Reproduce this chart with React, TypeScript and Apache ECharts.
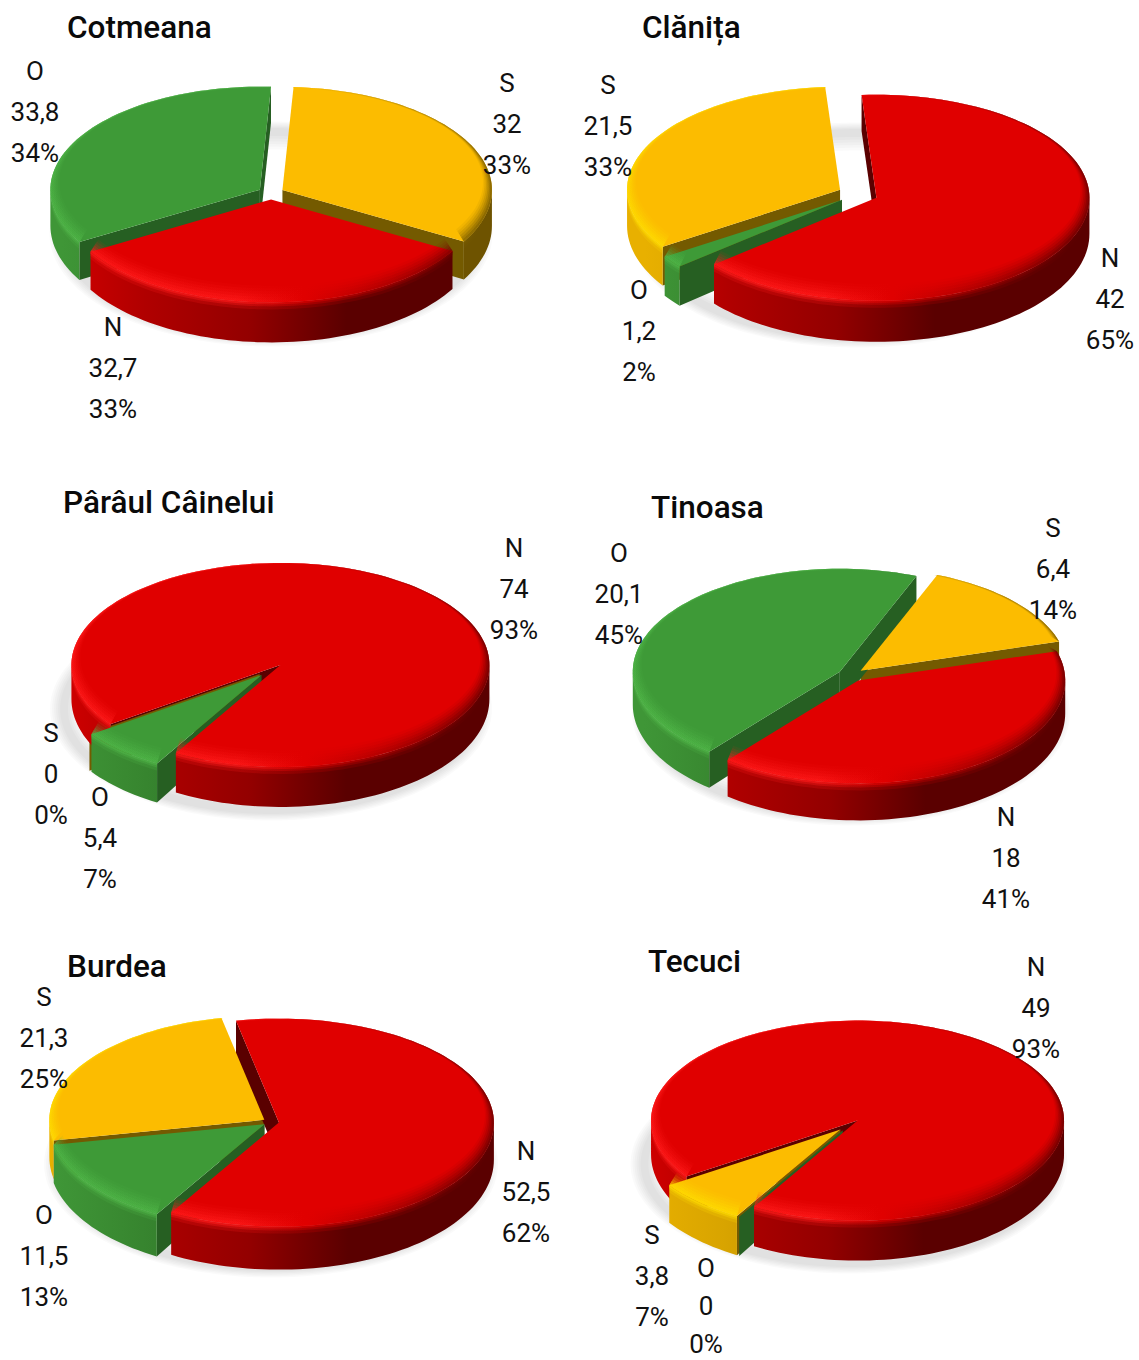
import React, { useEffect, useRef } from "react";
import * as echarts from "echarts";

// Slice order around each pie, clockwise from its first slice.
const sliceNames = ["N", "O", "S"];

const cotmeanaValues = [32.7, 33.8, 32];
const clanitaValues = [42, 1.2, 21.5];
const parauValues = [74, 5.4, 0];
const tinoasaValues = [18, 20.1, 6.4];
const burdeaValues = [52.5, 11.5, 21.3];
const tecuciValues = [49, 0, 3.8];

const cotmeanaPercents = ["33%", "34%", "33%"];
const clanitaPercents = ["65%", "2%", "33%"];
const parauPercents = ["93%", "7%", "0%"];
const tinoasaPercents = ["41%", "45%", "14%"];
const burdeaPercents = ["62%", "13%", "25%"];
const tecuciPercents = ["93%", "0%", "7%"];

const FONT = "Roboto, 'Noto Sans', sans-serif";
const RAD = Math.PI / 180;
const LINE_STEP = 41;

type Pie = {
  title: string;
  titleX: number;
  titleY: number;
  values: number[];
  percents: string[];
  cx: number;
  cy: number;
  rx: number;
  ry: number;
  depth: number;
  bulge: number;
  explode: number;
  start: number;
  labels: number[][];
};

// Geometry of each drum: centre, radii, wall height (taller towards the front by bulge),
// explosion and first-slice angle (degrees clockwise from 12 o'clock).
// Labels are [centre x, first line centre y, optional line step], in slice order.
const pies: Pie[] = [
  { title: "Cotmeana", titleX: 67, titleY: 27, values: cotmeanaValues, percents: cotmeanaPercents,
    cx: 271, cy: 193, rx: 209.5, ry: 103, depth: 36, bulge: 4, explode: 13, start: 120,
    labels: [[113, 327], [35, 71], [507, 83]] },
  { title: "Clănița", titleX: 642, titleY: 27, values: clanitaValues, percents: clanitaPercents,
    cx: 858, cy: 194, rx: 213, ry: 103, depth: 36, bulge: 5, explode: 20, start: 356,
    labels: [[1110, 258], [639, 290], [608, 85]] },
  { title: "Pârâul Câinelui", titleX: 63, titleY: 502, values: parauValues, percents: parauPercents,
    cx: 271, cy: 670, rx: 209, ry: 102, depth: 34, bulge: 6, explode: 14, start: 234.5,
    labels: [[514, 548], [100, 797], [51, 733]] },
  { title: "Tinoasa", titleX: 651, titleY: 507, values: tinoasaValues, percents: tinoasaPercents,
    cx: 851, cy: 675, rx: 207, ry: 103, depth: 33, bulge: 4, explode: 13, start: 73.5,
    labels: [[1006, 817], [619, 553], [1053, 528]] },
  { title: "Burdea", titleX: 67, titleY: 966, values: burdeaValues, percents: burdeaPercents,
    cx: 271, cy: 1122, rx: 215, ry: 104, depth: 37, bulge: 6, explode: 8, start: 348.5,
    labels: [[526, 1151], [44, 1215], [44, 997]] },
  { title: "Tecuci", titleX: 648, titleY: 961, values: tecuciValues, percents: tecuciPercents,
    cx: 849, cy: 1125, rx: 206.5, ry: 100, depth: 34, bulge: 6, explode: 12.5, start: 236,
    labels: [[1036, 967], [706, 1268, 38], [652, 1235]] },
];

// Shading per slice name: top colour, cut-face colour, wall and bevel ramps (left to right).
const shades: Record<string, { top: string; face: string; wall: [number, string][]; bevel: [number, string][] }> = {
  N: {
    top: "#e00000",
    face: "#5a0000",
    wall: [[0, "#d00000"], [0.2, "#b00000"], [0.45, "#930000"], [0.68, "#5a0000"], [1, "#5a0000"]],
    bevel: [[0, "#ff1a1a"], [0.42, "#ff1a1a"], [0.58, "#e00000"], [0.8, "#a00000"], [1, "#600000"]],
  },
  O: {
    top: "#3e9a37",
    face: "#265f22",
    wall: [[0, "#3f9637"], [0.2, "#37852f"], [0.45, "#2e7028"], [0.7, "#245a20"], [1, "#245a20"]],
    bevel: [[0, "#4fb547"], [0.42, "#4fb547"], [0.58, "#3e9a37"], [0.8, "#2e7028"], [1, "#245a20"]],
  },
  S: {
    top: "#fcbc00",
    face: "#745a00",
    wall: [[0, "#e8b000"], [0.2, "#d8a400"], [0.45, "#b88c00"], [0.7, "#6e5300"], [1, "#6e5300"]],
    bevel: [[0, "#ffdc00"], [0.42, "#ffdc00"], [0.58, "#fcbc00"], [0.8, "#a88000"], [1, "#6e5300"]],
  },
};

const ramp = (pie: Pie, stops: [number, string][]) =>
  new echarts.graphic.LinearGradient(
    pie.cx - pie.rx,
    0,
    pie.cx + pie.rx,
    0,
    stops.map(([offset, color]) => ({ offset, color })),
    true,
  );

const arcPoints = (cx: number, cy: number, rx: number, ry: number, from: number, to: number) => {
  const pts: number[][] = [];
  const steps = Math.max(1, Math.ceil(Math.abs(to - from) / 2));
  for (let i = 0; i <= steps; i++) {
    const t = (from + ((to - from) * i) / steps) * RAD;
    pts.push([cx + rx * Math.sin(t), cy - ry * Math.cos(t)]);
  }
  return pts;
};

// Parts of [from, to] that face the viewer (rim running along the front half).
const frontRanges = (from: number, to: number) => {
  const out: number[][] = [];
  for (let k = -1; k < 3; k++) {
    const lo = Math.max(from, 90 + 360 * k);
    const hi = Math.min(to, 270 + 360 * k);
    if (hi > lo) out.push([lo, hi]);
  }
  return out;
};

const poly = (points: number[][], style: object, z2: number) => ({
  type: "polygon",
  z2,
  silent: true,
  shape: { points },
  style,
});

const makeRenderItem = (pie: Pie) => (params: any, api: any) => {
  const index = params.dataIndex;
  const value = api.value(1);
  const total = pie.values.reduce((a, b) => a + b, 0);
  const before = pie.values.slice(0, index).reduce((a, b) => a + b, 0);
  const from = pie.start + (before / total) * 360;
  const to = from + (value / total) * 360;
  const midDeg = (from + to) / 2;
  const mid = midDeg * RAD;
  const k = pie.ry / pie.rx;
  const x = pie.cx + pie.explode * Math.sin(mid);
  const y = pie.cy - pie.explode * Math.cos(mid) * k;
  const wallAt = (deg: number) => pie.depth + pie.bulge * Math.max(0, -Math.cos(deg * RAD));
  const shade = shades[sliceNames[index]];
  const children: any[] = [];

  if (index === 0) {
    // Soft ground shadow: rings round the foot of the drum, leaving the middle clear.
    for (let i = 0; i < 6; i++) {
      const sx = pie.rx + 2 + i * 2;
      const sy = pie.ry + 3 + i * 1.3;
      const foot = pie.cy + pie.depth + 5;
      const outer = arcPoints(pie.cx, foot, sx, sy, 0, 360);
      const inner = arcPoints(pie.cx, foot, sx - 8 - i * 4, sy - 8 - i * 4, 0, 360).reverse();
      children.push(poly([...outer, ...inner], { fill: "rgba(0,0,0,0.018)" }, 1));
    }
  }

  // Cut faces, drawn only on the side turned towards the viewer; nearer slices go last.
  const faceZ = 10 + (y - pie.cy + 30) / 60;
  const addFace = (angle: number) => {
    const [rim] = arcPoints(x, y, pie.rx, pie.ry, angle, angle);
    children.push(
      poly([[x, y], rim, [rim[0], rim[1] + wallAt(angle)], [x, y + pie.depth]], { fill: shade.face }, faceZ),
    );
  };
  if (value === 0) {
    addFace(from);
  } else {
    if (Math.sin(from * RAD) < 0) addFace(from);
    if (Math.sin(to * RAD) > 0) addFace(to);
  }

  if (value > 0) {
    for (const [lo, hi] of frontRanges(from, to)) {
      const upper = arcPoints(x, y, pie.rx, pie.ry, lo, hi);
      const steps = upper.length - 1;
      const angleAt = (i: number) => lo + ((hi - lo) * i) / steps;
      const lower = upper.map(([px, py], i) => [px, py + wallAt(angleAt(i))]).reverse();
      children.push(poly([...upper, ...lower], { fill: ramp(pie, shade.wall) }, 20));
      // Rounded shoulder just below the rim.
      [[2, 0.55], [4, 0.35], [7, 0.2]].forEach(([h, opacity], i) => {
        const band = upper.map(([px, py]) => [px, py + h]).reverse();
        children.push(
          poly([...upper, ...band], { fill: ramp(pie, shade.bevel), opacity }, 21 + i),
        );
      });
    }

    children.push(
      poly([[x, y], ...arcPoints(x, y, pie.rx, pie.ry, from, to)], { fill: shade.top }, 30),
    );
    // Bevel rings on the top surface, narrow at the back and wide at the front.
    [[1.5, 0.4], [3, 0.3], [4.5, 0.22], [6, 0.16], [7.5, 0.12], [9, 0.08]].forEach(([inset, opacity], i) => {
      const outer = arcPoints(x, y, pie.rx, pie.ry, from, to);
      const inner = arcPoints(x, y - inset * 0.85, pie.rx - inset, pie.ry - inset, from, to).reverse();
      children.push(
        poly([...outer, ...inner], { fill: ramp(pie, shade.bevel), opacity }, 31 + i),
      );
    });
  }

  const [lx, ly, step = LINE_STEP] = pie.labels[index];
  const lines = [sliceNames[index], String(value).replace(".", ","), pie.percents[index]];
  lines.forEach((text, i) => {
    children.push({
      type: "text",
      z2: 40,
      silent: true,
      style: {
        x: lx,
        y: ly + i * step,
        text,
        align: "center",
        verticalAlign: "middle",
        fontSize: 26,
        fontFamily: FONT,
        fill: "#111111",
      },
    });
  });

  return { type: "group", children };
};

export default function App() {
  const ref = useRef<HTMLDivElement>(null);

  useEffect(() => {
    const chart = echarts.init(ref.current!, undefined, { renderer: "svg" });
    chart.setOption({
      animation: false,
      backgroundColor: "#ffffff",
      title: pies.map((pie) => ({
        text: pie.title,
        left: pie.titleX,
        top: pie.titleY - 20,
        padding: 0,
        textStyle: { fontFamily: FONT, fontSize: 31.5, fontWeight: 500, color: "#0a0a0a", lineHeight: 40 },
      })),
      series: pies.map((pie) => ({
        type: "custom",
        coordinateSystem: "none",
        silent: true,
        renderItem: makeRenderItem(pie),
        data: pie.values.map((v, i) => [i, v]),
      })),
    });
    return () => chart.dispose();
  }, []);

  return (
    <div
      ref={ref}
      style={{ position: "absolute", left: 0, top: 0, width: 1139, height: 1360 }}
    />
  );
}
